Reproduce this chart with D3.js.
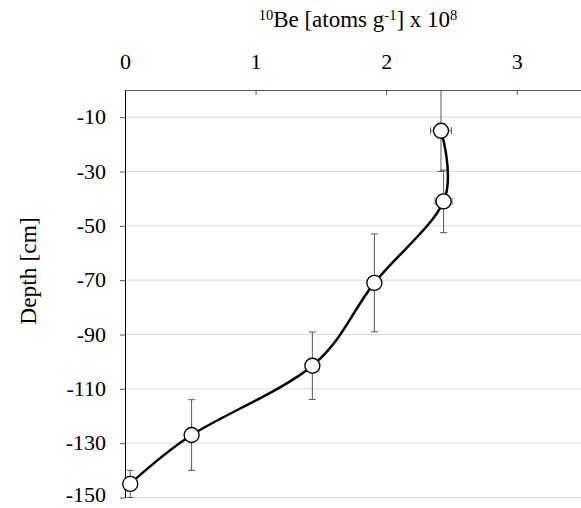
<!DOCTYPE html>
<html>
<head>
<meta charset="utf-8">
<script src="https://cdn.jsdelivr.net/npm/d3@7"></script>
<style>
  html, body { margin: 0; padding: 0; background: #fff; }
  svg { display: block; }
  text { font-family: "Liberation Serif", "DejaVu Serif", serif; fill: #000; }
</style>
</head>
<body>
<svg id="chart" width="581" height="508"></svg>
<script>
// 10Be concentration profile with depth
const beConc   = [2.42, 2.44, 1.91, 1.435, 0.51, 0.04];   // x 10^8 atoms g-1
const depth    = [-15, -41, -71, -101.5, -127, -145];    // cm
const beErr    = [0.08, 0.065, 0, 0, 0, 0];              // horizontal error
const depthErr = [15, 11.5, 18, 12.4, 13, 5];            // vertical error
const xTicks   = [0, 1, 2, 3];
const yTicks   = [-10, -30, -50, -70, -90, -110, -130, -150];

const serif = "'Liberation Serif', 'DejaVu Serif', serif";
const svg = d3.select("#chart");
const plotL = 125, plotR = 582, plotT = 90, plotB = 497.5;

const x = d3.scaleLinear().domain([0, 3.5]).range([plotL, plotR]);
const y = d3.scaleLinear().domain([0, -150]).range([plotT, plotB]);

// horizontal gridlines
svg.append("g").selectAll("line").data(yTicks).join("line")
  .attr("x1", plotL).attr("x2", plotR)
  .attr("y1", d => y(d)).attr("y2", d => y(d))
  .attr("stroke", "#d9d9d9").attr("stroke-width", 1);

// top axis (ticks inward)
const xAxis = svg.append("g").attr("transform", `translate(0,${plotT})`)
  .call(d3.axisBottom(x).tickValues(xTicks).tickSize(5).tickSizeOuter(0).tickFormat(d => String(d)))
  .attr("font-family", serif).attr("font-size", 22);
xAxis.select(".domain").attr("stroke", "#555");
xAxis.selectAll(".tick line").attr("stroke", "#555");
xAxis.selectAll(".tick text").attr("y", -21).attr("dy", 0)
  .style("font-family", serif).style("font-size", "22px");

// left axis (ticks outward), plain hyphen-minus labels
const yAxis = svg.append("g").attr("transform", `translate(${plotL},0)`)
  .call(d3.axisLeft(y).tickValues(yTicks).tickSize(5).tickSizeOuter(0).tickFormat(d => String(d)))
  .attr("font-family", serif).attr("font-size", 22);
yAxis.select(".domain").attr("stroke", "#000");
yAxis.selectAll(".tick line").attr("stroke", "#555");
yAxis.selectAll(".tick text").attr("x", -19).attr("dy", "0.31em")
  .style("font-family", serif).style("font-size", "22px");
// keep the lowest label inside the frame
yAxis.selectAll(".tick text").filter(d => d === -150).attr("y", -3);

// axis titles
const title = svg.append("text").attr("x", 358).attr("y", 27)
  .attr("text-anchor", "middle").style("font-size", "23px");
title.append("tspan").text("10").style("font-size", "14.5px").attr("dy", -7);
title.append("tspan").text("Be [atoms g").attr("dy", 7);
title.append("tspan").text("-1").style("font-size", "14.5px").attr("dy", -7);
title.append("tspan").text("] x 10").attr("dy", 7);
title.append("tspan").text("8").style("font-size", "14.5px").attr("dy", -7);

svg.append("text")
  .attr("transform", "translate(36,271) rotate(-90)")
  .attr("text-anchor", "middle").style("font-size", "23.5px")
  .text("Depth [cm]");

const pts = beConc.map((v, i) => ({ x: v, y: depth[i], ex: beErr[i], ey: depthErr[i] }));

// error bars
const eb = svg.append("g").attr("stroke", "#595959").attr("stroke-width", 1);
const cap = 3.5;
pts.forEach(p => {
  const y0 = Math.min(0, p.y + p.ey), y1 = Math.max(-150, p.y - p.ey);
  eb.append("line").attr("x1", x(p.x)).attr("x2", x(p.x)).attr("y1", y(y0)).attr("y2", y(y1));
  if (p.y + p.ey < 0)
    eb.append("line").attr("x1", x(p.x) - cap).attr("x2", x(p.x) + cap).attr("y1", y(y0)).attr("y2", y(y0));
  eb.append("line").attr("x1", x(p.x) - cap).attr("x2", x(p.x) + cap).attr("y1", y(y1)).attr("y2", y(y1));
  if (p.ex > 0) {
    eb.append("line").attr("x1", x(p.x - p.ex)).attr("x2", x(p.x + p.ex)).attr("y1", y(p.y)).attr("y2", y(p.y));
    [p.x - p.ex, p.x + p.ex].forEach(e =>
      eb.append("line").attr("x1", x(e)).attr("x2", x(e)).attr("y1", y(p.y) - cap).attr("y2", y(p.y) + cap));
  }
});

// smoothed profile line
const line = d3.line().x(d => x(d.x)).y(d => y(d.y)).curve(d3.curveCardinal.tension(0));
svg.append("path").datum(pts).attr("d", line)
  .attr("fill", "none").attr("stroke", "#000").attr("stroke-width", 2.5);

// sample markers
svg.append("g").selectAll("circle").data(pts).join("circle")
  .attr("cx", d => x(d.x)).attr("cy", d => y(d.y)).attr("r", 7.5)
  .attr("fill", "#fff").attr("stroke", "#000").attr("stroke-width", 1.3);
</script>
</body>
</html>
